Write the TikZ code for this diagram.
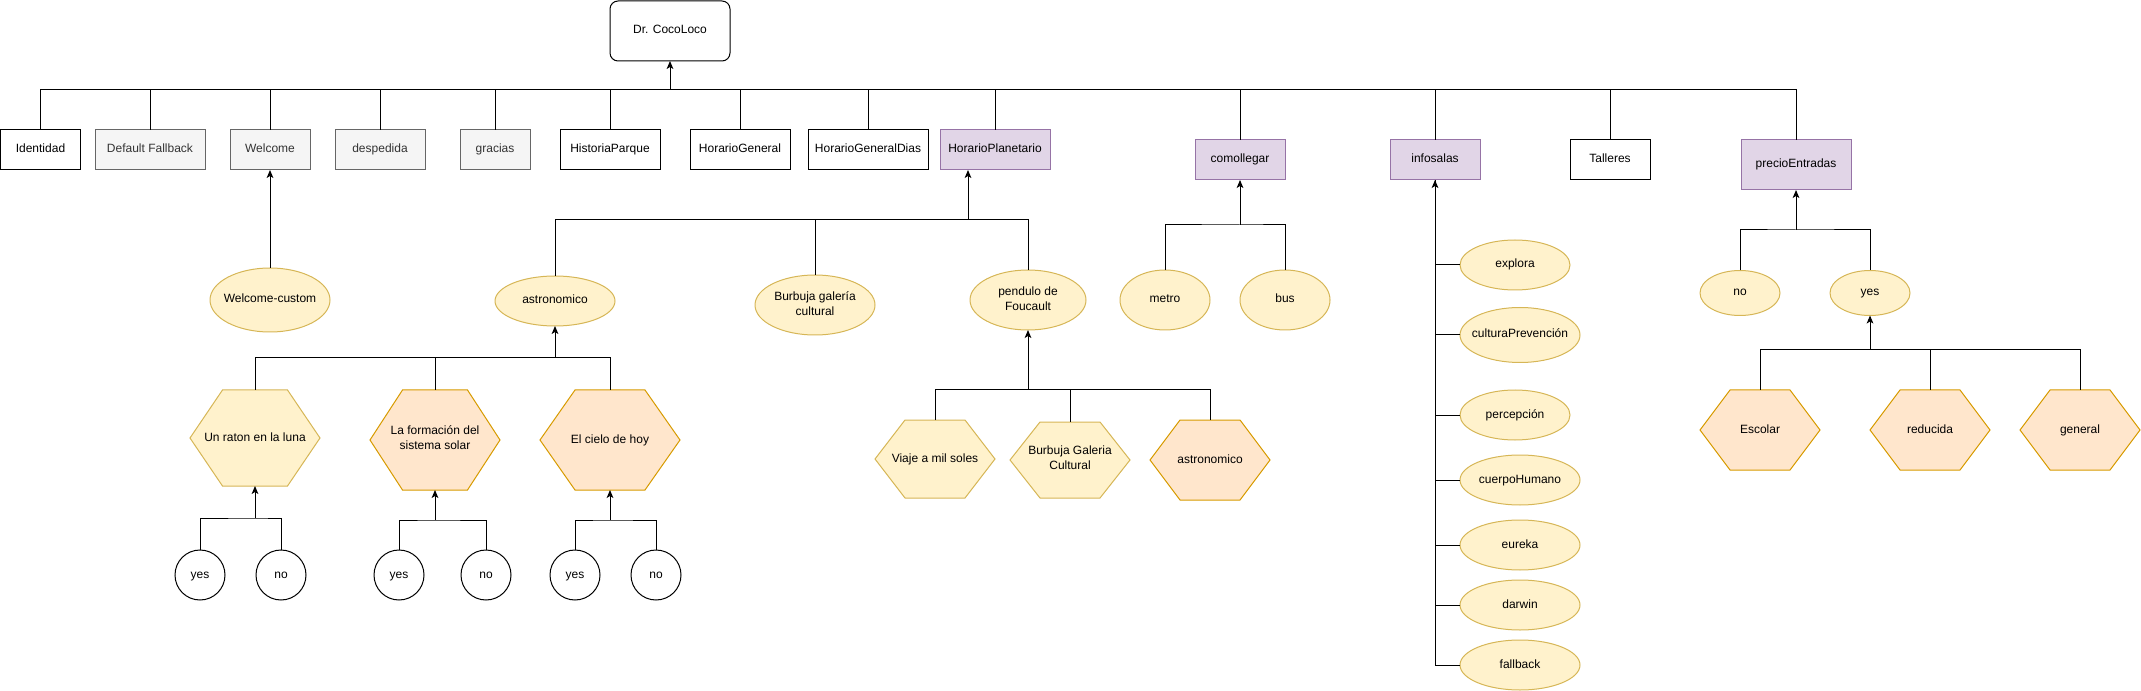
\documentclass[tikz,border=0pt]{standalone}
\usepackage{fontspec}
\setmainfont{Liberation Sans}
\usetikzlibrary{shapes.geometric,arrows.meta}
\definecolor{yelfill}{HTML}{FFF2CC}
\definecolor{yelline}{HTML}{D6B656}
\definecolor{orgfill}{HTML}{FFE6CC}
\definecolor{orgline}{HTML}{D79B00}
\definecolor{lilfill}{HTML}{E1D5E7}
\definecolor{lilline}{HTML}{9673A6}
\definecolor{gryfill}{HTML}{F5F5F5}
\definecolor{gryline}{HTML}{666666}
\definecolor{grytext}{HTML}{333333}
\newcommand{\nowide}[1]{\makebox[0pt]{\begin{tabular}{@{}c@{}}#1\end{tabular}}}
\newcommand{\hexa}[7]{%
  \draw[#1] ({#3-#5/2},#4) -- ({#3-#5/4},{#4-#6/2}) -- ({#3+#5/4},{#4-#6/2})
    -- ({#3+#5/2},#4) -- ({#3+#5/4},{#4+#6/2}) -- ({#3-#5/4},{#4+#6/2}) -- cycle;
  \node[any,sz={#5}{#6}] (#2) at (#3,#4) {#7};}

\begin{document}
\begin{tikzpicture}[x=0.75pt, y=-0.75pt, line width=0.75pt,
    sz/.style 2 args={minimum width=#1*0.75pt, minimum height=#2*0.75pt},
    any/.style={inner sep=0pt, outer sep=0pt, align=center,
                font=\fontsize{9}{11.25}\selectfont,
                execute at begin node=\strut, execute at end node=\strut},
    box/.style={any, draw, fill=white},
    grey/.style={box, draw=gryline, fill=gryfill, text=grytext},
    lilac/.style={box, draw=lilline, fill=lilfill},
    oval/.style={any, ellipse, draw=yelline, fill=yelfill},
    yesno/.style={any, circle, draw, minimum size=37.5pt},
    hexy/.style={draw=yelline, fill=yelfill},
    hexo/.style={draw=orgline, fill=orgfill},
    arr/.style={-{Stealth[length=6pt, width=5pt, inset=1.5pt]}}
]
\useasboundingbox (0,0) rectangle (2141,691);

% top row
\node[box, rounded corners=6pt, sz={120}{60}] (coco) at (670,31) {Dr. CocoLoco};
\node[box, sz={80}{40}] (ident) at (40.5,150) {Identidad};
\node[grey, sz={110}{40}] (deffb) at (150,150) {Default Fallback};
\node[grey, sz={80}{40}] (welc) at (270,150) {Welcome};
\node[grey, sz={90}{40}] (desp) at (380,150) {despedida};
\node[grey, sz={70}{40}] (grac) at (495,150) {gracias};
\node[box, sz={100}{40}] (hist) at (610,150) {HistoriaParque};
\node[box, sz={100}{40}] (hgen) at (740,150) {HorarioGeneral};
\node[box, sz={120}{40}] (hgdias) at (868,150) {HorarioGeneralDias};
\node[lilac, sz={110}{40}] (hplan) at (995,150) {HorarioPlanetario};
\node[lilac, sz={90}{40}] (como) at (1240,160) {comollegar};
\node[lilac, sz={90}{40}] (info) at (1435,160) {infosalas};
\node[box, sz={80}{40}] (tall) at (1610,160) {Talleres};
\node[lilac, sz={110}{50}] (precio) at (1796,165) {precioEntradas};

% ovals
\node[oval, sz={120}{64}] (wcust) at (270,300) {\nowide{Welcome-custom}};
\node[oval, sz={120}{50}] (astro) at (555,301) {\nowide{astronomico}};
\node[oval, sz={120}{60}] (burb) at (815,305) {\nowide{Burbuja galería\\cultural}};
\node[oval, sz={116}{60}] (pend) at (1028,300) {\nowide{pendulo de\\Foucault}};
\node[oval, sz={90}{60}] (metro) at (1165,300) {\nowide{metro}};
\node[oval, sz={90}{60}] (bus) at (1285,300) {\nowide{bus}};
\node[oval, sz={110}{50}] (explora) at (1515,265) {\nowide{explora}};
\node[oval, sz={120}{55}] (cprev) at (1520,335) {\nowide{culturaPrevención}};
\node[oval, sz={110}{50}] (perc) at (1515,415) {\nowide{percepción}};
\node[oval, sz={120}{50}] (cuerpo) at (1520,480) {\nowide{cuerpoHumano}};
\node[oval, sz={120}{50}] (eureka) at (1520,545) {\nowide{eureka}};
\node[oval, sz={120}{50}] (darwin) at (1520,605) {\nowide{darwin}};
\node[oval, sz={120}{50}] (fallb) at (1520,665) {\nowide{fallback}};
\node[oval, sz={80}{45}] (pno) at (1740,293) {\nowide{no}};
\node[oval, sz={80}{45}] (pyes) at (1870,293) {\nowide{yes}};

% hexagons
\hexa{hexy}{raton}{255}{438}{130}{96}{Un raton en la luna}
\hexa{hexo}{form}{435}{440}{130}{100}{La formación del\\sistema solar}
\hexa{hexo}{cielo}{610}{440}{140}{100}{El cielo de hoy}
\hexa{hexy}{viaje}{935}{459}{120}{78}{Viaje a mil soles}
\hexa{hexy}{burgal}{1070}{460}{120}{76}{Burbuja Galeria\\Cultural}
\hexa{hexo}{astrohex}{1210}{460}{120}{80}{astronomico}
\hexa{hexo}{escolar}{1760}{430}{120}{80}{Escolar}
\hexa{hexo}{reduc}{1930}{430}{120}{80}{reducida}
\hexa{hexo}{gener}{2080}{430}{120}{80}{general}

% yes / no
\node[yesno] (ryes) at (200,575) {yes};
\node[yesno] (rno) at (281,575) {no};
\node[yesno] (fyes) at (399,575) {yes};
\node[yesno] (fno) at (486,575) {no};
\node[yesno] (cyes) at (575,575) {yes};
\node[yesno] (cno) at (656,575) {no};

% junctions
\coordinate (jtop) at (670,90);
\coordinate (jplan) at (968,220);
\coordinate (jastro) at (555,358);
\coordinate (jraton) at (255,518);
\coordinate (jform) at (435,520);
\coordinate (jcielo) at (610,520);
\coordinate (jpend) at (1028,390);
\coordinate (jcomo) at (1240,225);
\coordinate (jprecio) at (1796,230);
\coordinate (jyes) at (1870,350);

% connectors
\foreach \n in {ident,deffb,welc,desp,grac,hist,hgen,hgdias,hplan,como,info,tall,precio}
  \draw (\n.north) |- (jtop);
\draw[arr] (jtop) -- (coco.south);
\draw[arr] (wcust.north) -- (welc.south);
\foreach \n in {astro,burb,pend}
  \draw (\n.north) |- (jplan);
\draw[arr] (jplan) -- (jplan |- hplan.south);
\foreach \n in {raton,form,cielo}
  \draw (\n.north) |- (jastro);
\draw[arr] (jastro) -- (astro.south);
\draw (ryes.north) |- (jraton) -| (rno.north);
\draw[arr] (jraton) -- (raton.south);
\draw (fyes.north) |- (jform) -| (fno.north);
\draw[arr] (jform) -- (form.south);
\draw (cyes.north) |- (jcielo) -| (cno.north);
\draw[arr] (jcielo) -- (cielo.south);
\foreach \n in {viaje,burgal,astrohex}
  \draw (\n.north) |- (jpend);
\draw[arr] (jpend) -- (pend.south);
\draw (metro.north) |- (jcomo) -| (bus.north);
\draw[arr] (jcomo) -- (como.south);
\foreach \n in {explora,cprev,perc,cuerpo,eureka,darwin}
  \draw (\n.west) -| (info.south);
\draw[arr] (fallb.west) -| (info.south);
\draw (pno.north) |- (jprecio) -| (pyes.north);
\draw[arr] (jprecio) -- (precio.south);
\foreach \n in {escolar,reduc,gener}
  \draw (\n.north) |- (jyes);
\draw[arr] (jyes) -- (pyes.south);

\end{tikzpicture}
\end{document}
